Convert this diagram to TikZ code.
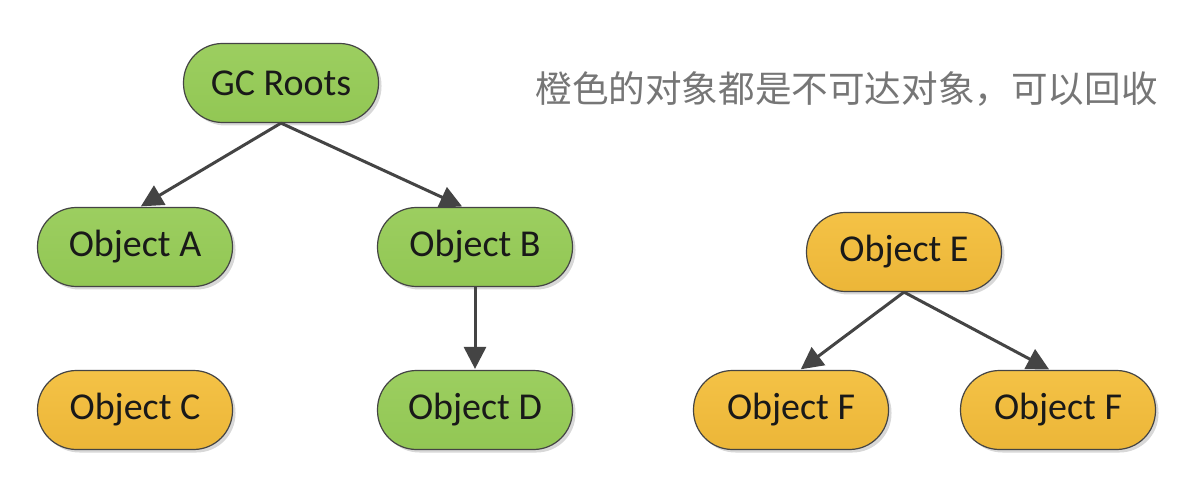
\documentclass[tikz,border=0pt]{standalone}
\usepackage{fontspec}
\setmainfont{Carlito}
\newfontfamily\cjk{Noto Sans CJK SC}
\usetikzlibrary{arrows.meta,shadows}
\definecolor{gfill}{RGB}{146,199,84}
\definecolor{gtop}{RGB}{156,206,96}
\definecolor{ofill}{RGB}{236,182,56}
\definecolor{otop}{RGB}{244,194,70}
\definecolor{edgec}{RGB}{68,68,68}
\definecolor{txtg}{RGB}{118,118,118}
\tikzset{
  pill/.style={draw=edgec, line width=1.2pt, minimum width=195pt, minimum height=79pt,
    rounded corners=39pt, font=\fontsize{38}{44}\selectfont, text=black!90,
    drop shadow={shadow xshift=3pt, shadow yshift=-3pt, opacity=0.25, fill=black!60}},
  green/.style={pill, top color=gtop, bottom color=gfill},
  orange/.style={pill, top color=otop, bottom color=ofill},
  arr/.style={draw=edgec, line width=3pt, -{Triangle[length=22pt,width=22pt]}, shorten >=1pt}
}
\begin{document}
\begin{tikzpicture}[x=1pt,y=-1pt]
\useasboundingbox[fill=white] (0,0) rectangle (1202,486);
\node[green] (gc) at (281,83) {GC Roots};
\node[green] (a) at (135,247) {Object A};
\node[green] (b) at (475,247) {Object B};
\node[orange] (c) at (135,410) {Object C};
\node[green] (d) at (475,410) {Object D};
\node[orange] (e) at (904,252) {Object E};
\node[orange] (f1) at (791,410) {Object F};
\node[orange] (f2) at (1058,410) {Object F};
\node[anchor=west, text=txtg, font=\cjk\fontsize{36.6}{40}\selectfont] (t) at (532,89) {橙色的对象都是不可达对象，可以回收};
\draw[arr] (gc.south) -- ([xshift=5pt]a.north);
\draw[arr] (gc.south) -- ([xshift=-12pt]b.north);
\draw[arr] (b.south) -- (d.north);
\draw[arr] (e.south) -- ([xshift=9pt]f1.north);
\draw[arr] (e.south) -- ([xshift=-8pt]f2.north);
\end{tikzpicture}
\end{document}
